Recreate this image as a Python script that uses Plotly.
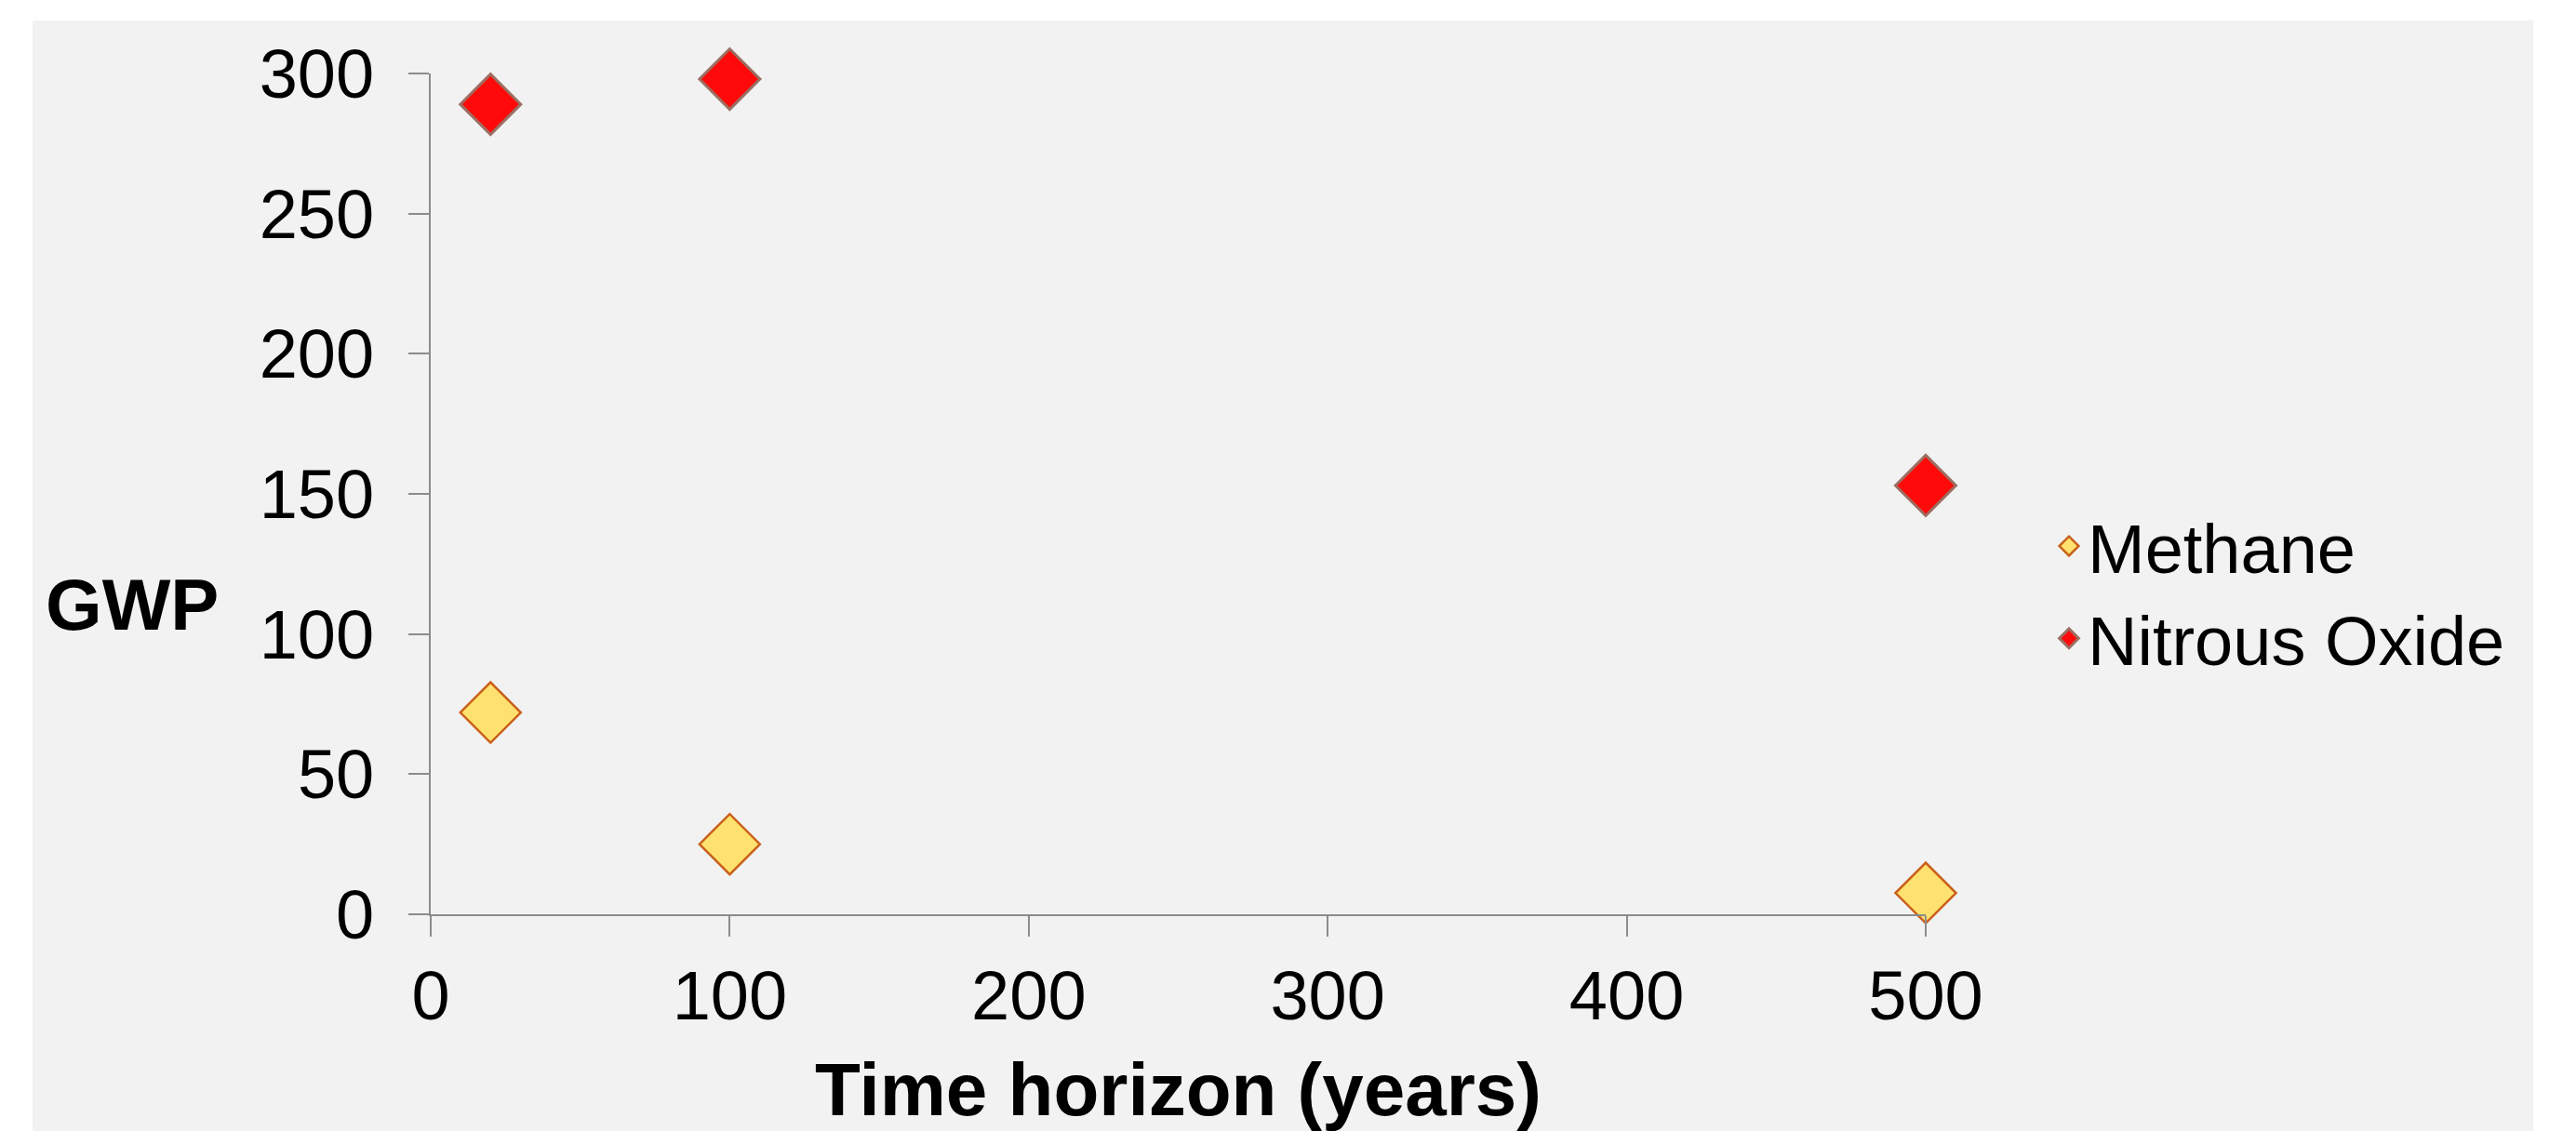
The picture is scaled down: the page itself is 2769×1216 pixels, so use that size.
import plotly.graph_objects as go

# Data
time_horizon = [20, 100, 500]
methane_gwp = [72, 25, 7.6]
nitrous_oxide_gwp = [289, 298, 153]
x_ticks = [0, 100, 200, 300, 400, 500]
y_ticks = [0, 50, 100, 150, 200, 250, 300]
series_names = ["Methane", "Nitrous Oxide"]

FONT = "Liberation Sans, Arial, sans-serif"
W, H = 2769, 1216
L, R, T, B = 463, 2769 - 2070, 79, 1216 - 983
PW, PH = W - L - R, H - T - B

def px_x(px):
    return (px - L) / PW

def px_y(py):
    return (H - B - py) / PH

fig = go.Figure()
fig.add_trace(go.Scatter(
    x=time_horizon, y=methane_gwp, name=series_names[0], mode="markers",
    marker=dict(symbol="diamond", size=50, color="#FFE16F",
                line=dict(color="#C9601A", width=2.5)),
    cliponaxis=False,
))
fig.add_trace(go.Scatter(
    x=time_horizon, y=nitrous_oxide_gwp, name=series_names[1], mode="markers",
    marker=dict(symbol="diamond", size=50, color="#FE0A0A",
                line=dict(color="#9C6F63", width=3)),
    cliponaxis=False,
))

axis_common = dict(
    showline=True, linecolor="#8C8C8C", linewidth=2,
    ticks="outside", ticklen=22, tickwidth=2, tickcolor="#8C8C8C",
    showgrid=False, zeroline=False,
    tickfont=dict(family=FONT, size=74, color="black"),
)

fig.update_layout(
    width=W, height=H,
    margin=dict(l=L, r=R, t=T, b=B, autoexpand=False),
    paper_bgcolor="white",
    plot_bgcolor="rgba(0,0,0,0)",
    font=dict(family=FONT, color="black"),
    xaxis=dict(range=[0, 500], tickvals=x_ticks, ticklabelstandoff=0,
               title=dict(text="<b>Time horizon (years)</b>",
                          font=dict(family=FONT, size=80, color="black"),
                          standoff=38),
               **axis_common),
    yaxis=dict(range=[0, 300], tickvals=y_ticks, ticklabelstandoff=22,
               **axis_common),
    legend=dict(x=px_x(2204), xanchor="left", y=px_y(637), yanchor="middle",
                font=dict(family=FONT, size=74, color="black"),
                bgcolor="rgba(0,0,0,0)", borderwidth=0),
    shapes=[dict(type="rect", xref="paper", yref="paper",
                 x0=px_x(35), x1=px_x(2723), y0=px_y(1216), y1=px_y(22),
                 fillcolor="#F2F2F2", line=dict(width=0), layer="below")],
    annotations=[dict(text="<b>GWP</b>", xref="paper", yref="paper",
                      x=px_x(47), xanchor="left", y=px_y(650), yanchor="middle",
                      showarrow=False,
                      font=dict(family=FONT, size=78, color="black"))],
)

fig.write_html("out.html", config={"displayModeBar": False},
               post_script="document.body.style.margin='0';document.body.style.overflow='hidden';")
